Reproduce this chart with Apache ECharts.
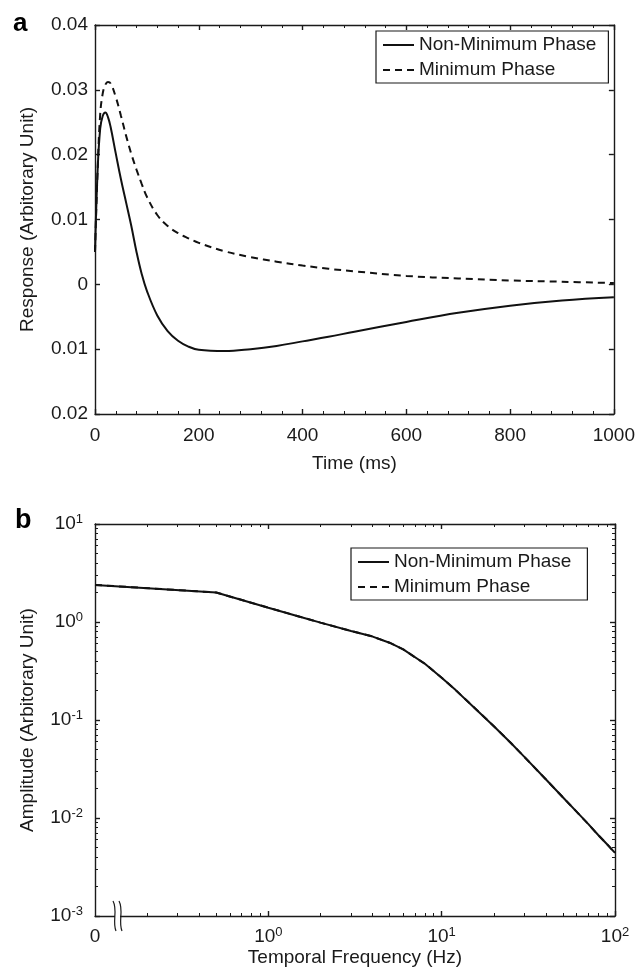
<!DOCTYPE html>
<html>
<head>
<meta charset="utf-8">
<script src="https://cdn.jsdelivr.net/npm/echarts@6/dist/echarts.min.js"></script>
<style>
  html, body { margin: 0; padding: 0; background: #fff; }
  #chart { width: 638px; height: 968px; }
</style>
</head>
<body>
<div id="chart"></div>
<script>
// panel a - impulse response
const timeMs = [0, 5, 10, 15, 20, 25, 30, 40, 50, 60, 70, 80, 90, 100, 120, 140, 160, 180, 200,
  250, 300, 350, 400, 450, 500, 600, 700, 800, 900, 1000];
const nonMinResp = [0.0050, 0.0175, 0.0240, 0.0260, 0.0265, 0.0258, 0.0243, 0.0202, 0.0162, 0.0126,
  0.0090, 0.0050, 0.0016, -0.0010, -0.0048, -0.0072, -0.0087, -0.0096, -0.0101,
  -0.0103, -0.0100, -0.0095, -0.0088, -0.0081, -0.0073, -0.0058, -0.0044, -0.0033, -0.0025, -0.0020];
const minResp = [0.0050, 0.0175, 0.0262, 0.0295, 0.0308, 0.0312, 0.0310, 0.0289, 0.0260, 0.0229,
  0.0201, 0.0177, 0.0155, 0.0135, 0.0107, 0.0090, 0.0079, 0.0071, 0.0064,
  0.0051, 0.0042, 0.0035, 0.0029, 0.0024, 0.0020, 0.0013, 0.0009, 0.0006, 0.0004, 0.0002];

// panel b - amplitude spectrum (0 Hz is drawn at the broken left end)
const freqHz = [0, 0.5, 1, 1.5, 2, 3, 4, 5, 6, 8, 10, 12, 15, 20, 25, 30, 40, 50, 60, 70, 80, 90, 100];
const nonMinAmp = [2.39, 2.00, 1.40, 1.14, 0.985, 0.81, 0.71, 0.615, 0.525, 0.375, 0.27, 0.203, 0.140,
  0.0865, 0.0585, 0.0420, 0.0247, 0.0163, 0.0116, 0.0087, 0.0067, 0.0054, 0.0044];
const minAmp = nonMinAmp.slice();

const freqLabelValues = [0.1, 1, 10, 100];
const freqMajorTicks = [1, 10, 100];
const ampLabelValues = [0.001, 0.01, 0.1, 1, 10];
const seriesNames = ['Non-Minimum Phase', 'Minimum Phase'];

// log minor ticks 2..9 of every decade
function minorTicks(fromExp, toExp) {
  const out = [];
  for (let e = fromExp; e < toExp; e++) {
    for (let k = 2; k <= 9; k++) out.push(+(k * Math.pow(10, e)).toPrecision(3));
  }
  return out;
}
const freqMinorTicks = minorTicks(-1, 2);
const ampMinorTicks = minorTicks(-3, 1);

const FONT = 'Liberation Sans, Arial, Helvetica, sans-serif';
const INK = '#1a1a1a';
const zeroFreqPos = 0.1;

const chart = echarts.init(document.getElementById('chart'));

const lineCfg = { color: INK, width: 1.4 };
const thinCfg = { color: INK, width: 1 };
const rich = {
  b: { fontSize: 19, lineHeight: 22, color: INK, fontFamily: FONT },
  s: { fontSize: 13, lineHeight: 13, color: INK, fontFamily: FONT, verticalAlign: 'top' }
};
const powText = v => '{b|10}{s|' + Math.round(Math.log10(v)) + '}';
const freqLabel = v => (v === zeroFreqPos ? '{b|0}' : powText(v));

// helper for log-axis copies carrying ticks only
function logAxis(base, extra) {
  return Object.assign({
    type: 'log', logBase: 10,
    axisLine: { show: true, onZero: false, lineStyle: lineCfg },
    axisLabel: { show: false },
    splitLine: { show: false },
    minorTick: { show: false },
    minorSplitLine: { show: false }
  }, base, extra);
}

const option = {
  animation: false,
  textStyle: { fontFamily: FONT, color: INK },
  grid: [
    { left: 95, top: 25, width: 520, height: 389 },
    { left: 95, top: 524, width: 520, height: 392 }
  ],
  xAxis: [
    {
      gridIndex: 0, type: 'value', min: 0, max: 1000, interval: 200, position: 'bottom',
      axisLine: { onZero: false, lineStyle: lineCfg },
      axisTick: { inside: true, length: 5, lineStyle: lineCfg },
      minorTick: { show: true, splitNumber: 5, length: 3, lineStyle: thinCfg },
      splitLine: { show: false },
      axisLabel: { fontSize: 19, color: INK, margin: 12, formatter: v => String(v) },
      name: 'Time (ms)', nameLocation: 'middle', nameGap: 40,
      nameTextStyle: { fontSize: 19, color: INK }
    },
    {
      gridIndex: 0, type: 'value', min: 0, max: 1000, interval: 200, position: 'top',
      axisLine: { onZero: false, lineStyle: lineCfg },
      axisTick: { inside: true, length: 5, lineStyle: lineCfg },
      minorTick: { show: true, splitNumber: 5, length: 3, lineStyle: thinCfg },
      splitLine: { show: false },
      axisLabel: { show: false }
    },
    logAxis({ gridIndex: 1, min: 0.1, max: 100, position: 'bottom' }, {
      axisTick: { inside: true, length: 5, customValues: freqMajorTicks, lineStyle: lineCfg },
      axisLabel: { show: true, customValues: freqLabelValues, formatter: freqLabel, rich: rich, margin: 10 },
      name: 'Temporal Frequency (Hz)', nameLocation: 'middle', nameGap: 32,
      nameTextStyle: { fontSize: 19, color: INK }
    }),
    logAxis({ gridIndex: 1, min: 0.1, max: 100, position: 'bottom' }, {
      axisLine: { show: false, onZero: false },
      axisTick: { inside: true, length: 3, customValues: freqMinorTicks, lineStyle: thinCfg }
    }),
    logAxis({ gridIndex: 1, min: 0.1, max: 100, position: 'top' }, {
      axisTick: { inside: true, length: 5, customValues: freqMajorTicks, lineStyle: lineCfg }
    }),
    logAxis({ gridIndex: 1, min: 0.1, max: 100, position: 'top' }, {
      axisLine: { show: false, onZero: false },
      axisTick: { inside: true, length: 3, customValues: freqMinorTicks, lineStyle: thinCfg }
    })
  ],
  yAxis: [
    {
      gridIndex: 0, type: 'value', min: -0.02, max: 0.04, interval: 0.01, position: 'left',
      axisLine: { show: true, onZero: false, lineStyle: lineCfg },
      axisTick: { show: true, inside: true, length: 5, lineStyle: lineCfg },
      splitLine: { show: false },
      axisLabel: {
        fontSize: 19, color: INK, margin: 7,
        formatter: v => String(Math.round(Math.abs(v) * 100) / 100)
      },
      name: 'Response (Arbitorary Unit)', nameLocation: 'middle', nameGap: 58,
      nameTextStyle: { fontSize: 19, color: INK }
    },
    {
      gridIndex: 0, type: 'value', min: -0.02, max: 0.04, interval: 0.01, position: 'right',
      axisLine: { show: true, onZero: false, lineStyle: lineCfg },
      axisTick: { show: true, inside: true, length: 5, lineStyle: lineCfg },
      splitLine: { show: false },
      axisLabel: { show: false }
    },
    logAxis({ gridIndex: 1, min: 0.001, max: 10, position: 'left' }, {
      axisTick: { show: true, inside: true, length: 5, customValues: ampLabelValues, lineStyle: lineCfg },
      axisLabel: { show: true, customValues: ampLabelValues, formatter: powText, rich: rich, margin: 12 },
      name: 'Amplitude (Arbitorary Unit)', nameLocation: 'middle', nameGap: 58,
      nameTextStyle: { fontSize: 19, color: INK }
    }),
    logAxis({ gridIndex: 1, min: 0.001, max: 10, position: 'left' }, {
      axisLine: { show: false, onZero: false },
      axisTick: { show: true, inside: true, length: 3, customValues: ampMinorTicks, lineStyle: thinCfg }
    }),
    logAxis({ gridIndex: 1, min: 0.001, max: 10, position: 'right' }, {
      axisTick: { show: true, inside: true, length: 5, customValues: ampLabelValues, lineStyle: lineCfg }
    }),
    logAxis({ gridIndex: 1, min: 0.001, max: 10, position: 'right' }, {
      axisLine: { show: false, onZero: false },
      axisTick: { show: true, inside: true, length: 3, customValues: ampMinorTicks, lineStyle: thinCfg }
    })
  ],
  legend: [
    {
      left: 376, top: 31, orient: 'vertical', selectedMode: false,
      padding: [4, 12, 3, 6], itemGap: 5, itemWidth: 31, itemHeight: 10,
      borderColor: INK, borderWidth: 1.2,
      itemStyle: { opacity: 0 },
      textStyle: { fontSize: 19, color: INK, lineHeight: 20, fontFamily: FONT },
      data: seriesNames
    },
    {
      left: 351, top: 548, orient: 'vertical', selectedMode: false,
      padding: [4, 16, 3, 6], itemGap: 5, itemWidth: 31, itemHeight: 10,
      borderColor: INK, borderWidth: 1.2,
      itemStyle: { opacity: 0 },
      textStyle: { fontSize: 19, color: INK, lineHeight: 20, fontFamily: FONT },
      data: seriesNames
    }
  ],
  series: [
    {
      name: seriesNames[0], type: 'line', xAxisIndex: 0, yAxisIndex: 0,
      symbol: 'none', smooth: 0.4, z: 3,
      lineStyle: { color: '#111', width: 2, type: 'solid' },
      itemStyle: { color: '#111' },
      data: timeMs.map((t, i) => [t, nonMinResp[i]])
    },
    {
      name: seriesNames[1], type: 'line', xAxisIndex: 0, yAxisIndex: 0,
      symbol: 'none', smooth: 0.4, z: 2,
      lineStyle: { color: '#111', width: 2, type: [7, 5] },
      itemStyle: { color: '#111' },
      data: timeMs.map((t, i) => [t, minResp[i]])
    },
    {
      name: seriesNames[1], type: 'line', xAxisIndex: 2, yAxisIndex: 2,
      symbol: 'none', z: 2,
      lineStyle: { color: '#111', width: 2, type: [7, 5] },
      itemStyle: { color: '#111' },
      data: freqHz.map((f, i) => [f === 0 ? zeroFreqPos : f, minAmp[i]])
    },
    {
      name: seriesNames[0], type: 'line', xAxisIndex: 2, yAxisIndex: 2,
      symbol: 'none', z: 3,
      lineStyle: { color: '#111', width: 2, type: 'solid' },
      itemStyle: { color: '#111' },
      data: freqHz.map((f, i) => [f === 0 ? zeroFreqPos : f, nonMinAmp[i]])
    }
  ],
  graphic: [
    { type: 'text', left: 13, top: 11, style: { text: 'a', font: 'bold 26px ' + FONT, fill: '#000' } },
    { type: 'text', left: 15, top: 507, style: { text: 'b', font: 'bold 27px ' + FONT, fill: '#000' } }
  ]
};

chart.setOption(option);

// axis-break marks near the 0 Hz end
const origin = chart.convertToPixel({ xAxisIndex: 2, yAxisIndex: 2 }, [zeroFreqPos, 0.001]);
const bx = origin[0] + 18, by = origin[1];
const breakMark = dx => ({
  type: 'bezierCurve', z: 100,
  shape: { x1: bx + dx, y1: by - 15, cpx1: bx + dx + 5, cpy1: by - 6, cpx2: bx + dx - 1, cpy2: by + 6, x2: bx + dx + 3, y2: by + 15 },
  style: { stroke: INK, lineWidth: 1.2, fill: null }
});
chart.setOption({
  graphic: option.graphic.concat([
    { type: 'rect', z: 99, shape: { x: bx + 2, y: by - 2, width: 5, height: 4 }, style: { fill: '#fff' } },
    breakMark(0),
    breakMark(6)
  ])
});
</script>
</body>
</html>
